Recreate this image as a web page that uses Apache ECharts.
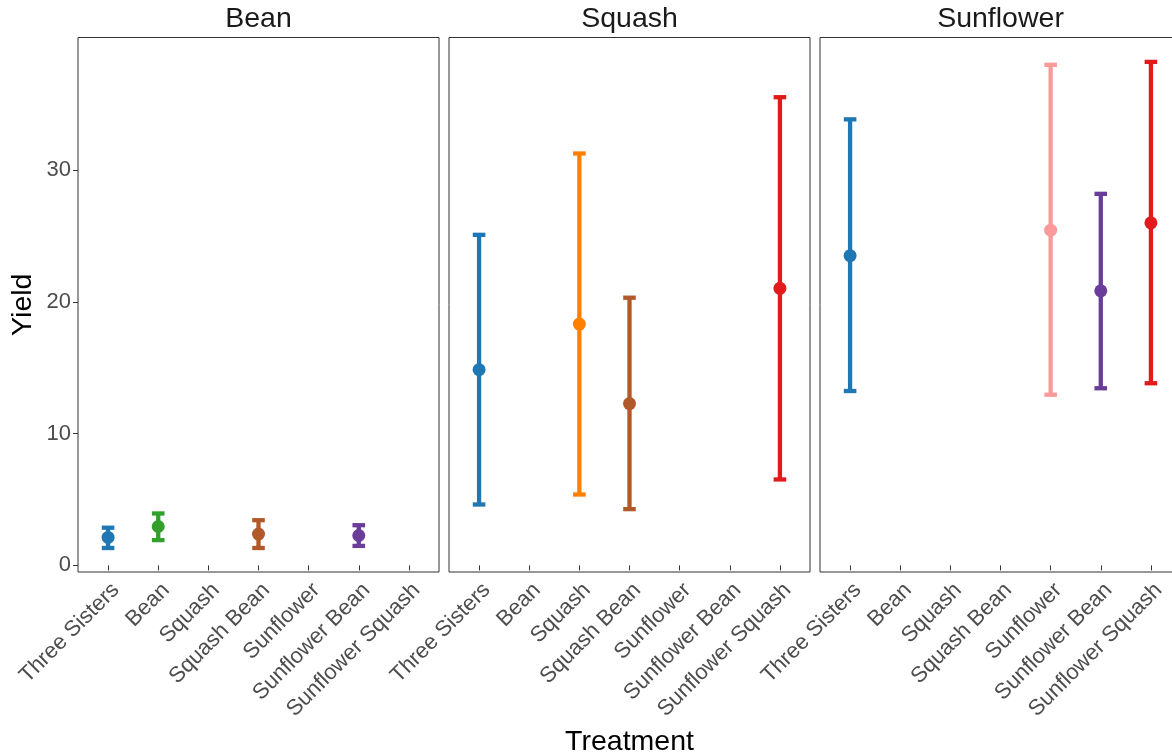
<!DOCTYPE html>
<html><head><meta charset="utf-8">
<script src="https://cdn.jsdelivr.net/npm/echarts@6/dist/echarts.min.js"></script>
<style>html,body{margin:0;padding:0;background:#fff}#chart{width:1172px;height:753px}</style>
</head><body><div id="chart"></div>
<script>
// ---- data ----
const treatments = ['Three Sisters','Bean','Squash','Squash Bean','Sunflower','Sunflower Bean','Sunflower Squash'];
const panels = ['Bean','Squash','Sunflower'];
const treatmentColors = ['#1f78b4','#33a02c','#ff7f00','#b15928','#fb9a99','#6a3d9a','#e31a1c'];
const yTicks = [0, 10, 20, 30];

const beanMean  = [2.12, 2.95, null, 2.38, null, 2.27, null];
const beanLow   = [1.32, 1.92, null, 1.32, null, 1.48, null];
const beanHigh  = [2.86, 3.94, null, 3.43, null, 3.05, null];

const squashMean = [14.85, null, 18.31, 12.28, null, null, 21.02];
const squashLow  = [4.62, null, 5.38, 4.27, null, null, 6.52];
const squashHigh = [25.08, null, 31.25, 20.31, null, null, 35.52];

const sunflowerMean = [23.5, null, null, null, 25.43, 20.83, 25.99];
const sunflowerLow  = [13.23, null, null, null, 12.95, 13.44, 13.82];
const sunflowerHigh = [33.84, null, null, null, 37.98, 28.19, 38.2];

const panelData = [
  [beanMean, beanLow, beanHigh],
  [squashMean, squashLow, squashHigh],
  [sunflowerMean, sunflowerLow, sunflowerHigh]
];

// ---- layout ----
const FONT = 'Liberation Sans, Arial, Helvetica, sans-serif';
const gridLefts = [78, 449, 820];
const gridWidth = 361;
const gridTop = 37.5;
const gridHeight = 534.5;
const tickPositions = treatments.map((_, i) => i + 1);

function renderErrorBar(params, api) {
  const x = api.value(0), lo = api.value(1), hi = api.value(2);
  const pLo = api.coord([x, lo]);
  const pHi = api.coord([x, hi]);
  const half = 6.3;
  const style = { stroke: treatmentColors[x - 1], lineWidth: 4.3, fill: null };
  return { type: 'group', children: [
    { type: 'line', shape: { x1: pLo[0], y1: pLo[1], x2: pHi[0], y2: pHi[1] }, style: style },
    { type: 'line', shape: { x1: pHi[0] - half, y1: pHi[1], x2: pHi[0] + half, y2: pHi[1] }, style: style },
    { type: 'line', shape: { x1: pLo[0] - half, y1: pLo[1], x2: pLo[0] + half, y2: pLo[1] }, style: style }
  ]};
}

const grids = [], xAxes = [], yAxes = [], series = [], graphics = [];
panels.forEach((name, p) => {
  grids.push({ left: gridLefts[p], top: gridTop, width: gridWidth, height: gridHeight,
    containLabel: false, outerBoundsMode: 'none',
    show: true, borderColor: '#333', borderWidth: 1, backgroundColor: '#fff' });
  xAxes.push({
    type: 'value', gridIndex: p, min: 0.4, max: 7.6,
    splitLine: { show: false }, axisLine: { show: false },
    axisTick: { show: true, customValues: tickPositions, length: 5, lineStyle: { color: '#333', width: 1 } },
    axisLabel: { customValues: tickPositions, formatter: v => treatments[Math.round(v) - 1],
      rotate: 45, align: 'right', verticalAlign: 'top', margin: 7,
      fontSize: 22, color: '#4d4d4d', fontFamily: FONT },
    name: p === 1 ? 'Treatment' : '', nameLocation: 'middle', nameGap: 149,
    nameTextStyle: { fontSize: 28.5, color: '#000', fontFamily: FONT }
  });
  yAxes.push({
    type: 'value', gridIndex: p, min: -0.5, max: 40.05,
    splitLine: { show: false }, axisLine: { show: false },
    axisTick: { show: p === 0, customValues: yTicks, length: 5, lineStyle: { color: '#333', width: 1 } },
    axisLabel: { show: p === 0, customValues: yTicks, margin: 7, fontSize: 22, color: '#4d4d4d', fontFamily: FONT },
    name: p === 0 ? 'Yield' : '', nameLocation: 'middle', nameGap: 40,
    nameTextStyle: { fontSize: 28.5, color: '#000', fontFamily: FONT }
  });
  const [mean, low, high] = panelData[p];
  const barData = [], pointData = [];
  treatments.forEach((t, i) => {
    if (mean[i] == null) return;
    barData.push([i + 1, low[i], high[i]]);
    pointData.push({ value: [i + 1, mean[i]], itemStyle: { color: treatmentColors[i], opacity: 1 } });
  });
  series.push({ type: 'custom', xAxisIndex: p, yAxisIndex: p, renderItem: renderErrorBar,
    encode: { x: 0, y: [1, 2] }, data: barData, silent: true, z: 2 });
  series.push({ type: 'scatter', xAxisIndex: p, yAxisIndex: p, symbol: 'circle', symbolSize: 13,
    itemStyle: { opacity: 1 }, data: pointData, silent: true, z: 3 });
  graphics.push({ type: 'text', x: gridLefts[p] + gridWidth / 2, y: 19,
    style: { text: name, fontSize: 28.5, fill: '#1a1a1a', fontFamily: FONT, align: 'center', verticalAlign: 'middle' } });
});

const chart = echarts.init(document.getElementById('chart'), null, { renderer: 'canvas' });
chart.setOption({
  animation: false,
  backgroundColor: '#fff',
  grid: grids, xAxis: xAxes, yAxis: yAxes, series: series,
  graphic: graphics
});
</script>
</body></html>
